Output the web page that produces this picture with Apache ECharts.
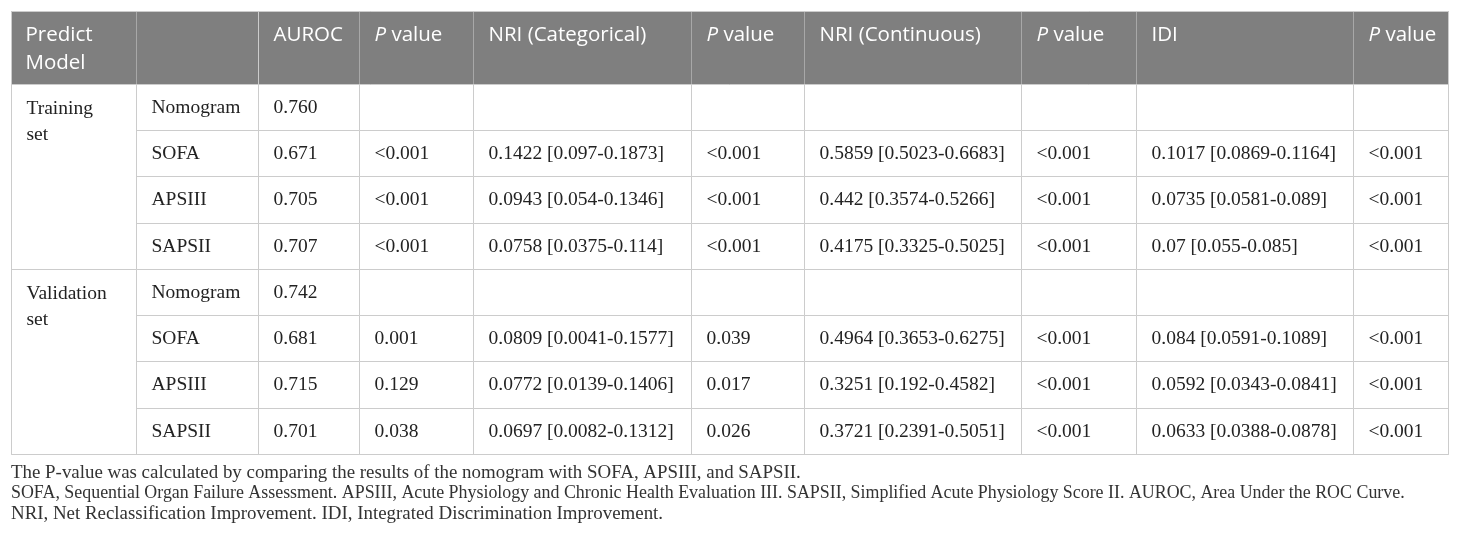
<!DOCTYPE html>
<html lang="en">
<head>
<meta charset="utf-8">
<title>Model comparison table</title>
<style>
html, body { margin: 0; height: 100%; background: #fff; }
#container { width: 1460px; height: 543px; }
</style>
</head>
<body>
<div id="container"></div>
<script src="https://cdn.jsdelivr.net/npm/echarts@6.0.0/dist/echarts.min.js"></script>
<script>
// ---- table content ----
var cornerTitle = 'Predict Model';
var headers = ['AUROC', 'P value', 'NRI (Categorical)', 'P value', 'NRI (Continuous)', 'P value', 'IDI', 'P value'];
var groups = ['Training set', 'Validation set'];
var models = ['Nomogram', 'SOFA', 'APSIII', 'SAPSII'];

var auroc = ['0.760', '0.671', '0.705', '0.707', '0.742', '0.681', '0.715', '0.701'];
var aurocP = ['', '<0.001', '<0.001', '<0.001', '', '0.001', '0.129', '0.038'];
var nriCat = ['', '0.1422 [0.097-0.1873]', '0.0943 [0.054-0.1346]', '0.0758 [0.0375-0.114]',
    '', '0.0809 [0.0041-0.1577]', '0.0772 [0.0139-0.1406]', '0.0697 [0.0082-0.1312]'];
var nriCatP = ['', '<0.001', '<0.001', '<0.001', '', '0.039', '0.017', '0.026'];
var nriCont = ['', '0.5859 [0.5023-0.6683]', '0.442 [0.3574-0.5266]', '0.4175 [0.3325-0.5025]',
    '', '0.4964 [0.3653-0.6275]', '0.3251 [0.192-0.4582]', '0.3721 [0.2391-0.5051]'];
var nriContP = ['', '<0.001', '<0.001', '<0.001', '', '<0.001', '<0.001', '<0.001'];
var idi = ['', '0.1017 [0.0869-0.1164]', '0.0735 [0.0581-0.089]', '0.07 [0.055-0.085]',
    '', '0.084 [0.0591-0.1089]', '0.0592 [0.0343-0.0841]', '0.0633 [0.0388-0.0878]'];
var idiP = ['', '<0.001', '<0.001', '<0.001', '', '<0.001', '<0.001', '<0.001'];

var footnotes = [
    'The P-value was calculated by comparing the results of the nomogram with SOFA, APSIII, and SAPSII.',
    'SOFA, Sequential Organ Failure Assessment. APSIII, Acute Physiology and Chronic Health Evaluation III. SAPSII, Simplified Acute Physiology Score II. AUROC, Area Under the ROC Curve.',
    'NRI, Net Reclassification Improvement. IDI, Integrated Discrimination Improvement.'
];

// ---- layout ----
var colWidths = [101, 114, 218, 113, 217, 115, 217, 95];
var sideWidths = [125, 122];
var headerHeight = 73;

var serif = '"Liberation Serif", "DejaVu Serif", serif';
var sans = '"Open Sans", "Noto Sans", sans-serif';
var lineColor = '#cccccc';
var headBg = '#7f7f7f';
var headLine = '#a8a8a8';

var columns = [auroc, aurocP, nriCat, nriCatP, nriCont, nriContP, idi, idiP];

// matrix categories must be unique: pad repeated names with trailing spaces
function uniq(name, seen) {
    var key = name;
    while (seen[key]) {
        key += ' ';
    }
    seen[key] = true;
    return key;
}

var seenX = {};
var xData = headers.map(function (h, i) {
    var txt = h.indexOf('P ') === 0 ? '{i|P}' + h.slice(1) : h;
    return { value: uniq(txt, seenX), size: colWidths[i] };
});

var seenY = {};
var yData = groups.map(function (g) {
    return {
        value: g.replace(' ', '\n'),
        label: { position: 'insideTopLeft', padding: [11, 0, 0, 15] },
        children: models.map(function (m) { return uniq(m, seenY); })
    };
});

var bodyData = [];
columns.forEach(function (col, c) {
    col.forEach(function (v, r) {
        if (v !== '') {
            bodyData.push({ coord: [c, r], value: v });
        }
    });
});

// the long middle footnote line is justified tighter in the source
var footText = footnotes.map(function (t, i) {
    return (i === 1 ? '{b|' : '{a|') + t + '}';
}).join('\n');

var chart = echarts.init(document.getElementById('container'), null, { renderer: 'canvas' });

var option = {
    animation: false,
    title: {
        left: 11,
        top: 463,
        padding: 0,
        text: footText,
        textStyle: {
            fontFamily: serif,
            fontSize: 18.9,
            fontWeight: 'normal',
            color: '#333',
            lineHeight: 20.5,
            rich: {
                a: { fontFamily: serif, fontSize: 18.9, color: '#333', lineHeight: 20.5 },
                b: { fontFamily: serif, fontSize: 17.9, color: '#333', lineHeight: 20.5 }
            }
        }
    },
    matrix: {
        left: 11,
        top: 11,
        width: 1437,
        height: 443,
        backgroundStyle: { color: '#fff', borderColor: lineColor, borderWidth: 1 },
        x: {
            data: xData,
            levels: [{ levelSize: headerHeight }],
            itemStyle: { color: headBg, borderColor: headLine, borderWidth: 1 },
            label: {
                position: 'insideTopLeft',
                distance: 0,
                padding: [10, 0, 0, 15],
                color: '#fff',
                fontFamily: sans,
                fontSize: 20.5,
                lineHeight: 28,
                rich: { i: { fontStyle: 'italic', color: '#fff', fontFamily: sans, fontSize: 20.5 } }
            },
            dividerLineStyle: { color: lineColor, width: 1 }
        },
        y: {
            data: yData,
            levels: [{ levelSize: sideWidths[0] }, { levelSize: sideWidths[1] }],
            itemStyle: { color: '#fff', borderColor: lineColor, borderWidth: 1 },
            label: {
                position: 'insideLeft',
                distance: 0,
                padding: [0, 0, 0, 15],
                color: '#222',
                fontFamily: serif,
                fontSize: 19.5,
                lineHeight: 26
            },
            dividerLineStyle: { color: lineColor, width: 1 }
        },
        corner: {
            data: [{ coord: [-2, -1], value: cornerTitle.replace(' ', '\n') }],
            itemStyle: { color: headBg, borderColor: headLine, borderWidth: 1 },
            label: {
                position: 'insideTopLeft',
                distance: 0,
                padding: [10, 0, 0, 14],
                color: '#fff',
                fontFamily: sans,
                fontSize: 20.5,
                lineHeight: 28
            }
        },
        body: {
            data: bodyData,
            itemStyle: { color: '#fff', borderColor: lineColor, borderWidth: 1 },
            label: {
                position: 'insideLeft',
                distance: 0,
                padding: [0, 0, 0, 15],
                color: '#222',
                fontFamily: serif,
                fontSize: 19.5
            }
        }
    }
};

chart.setOption(option);
window.addEventListener('resize', chart.resize);
</script>
</body>
</html>
